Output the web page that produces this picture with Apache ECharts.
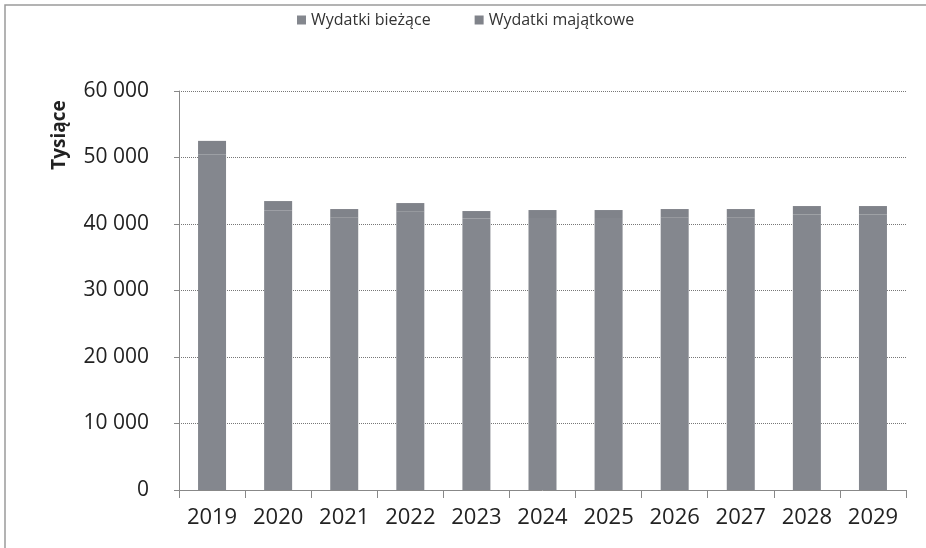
<!DOCTYPE html>
<html>
<head>
<meta charset="utf-8">
<script src="https://cdn.jsdelivr.net/npm/echarts@6/dist/echarts.min.js"></script>
<style>
html,body{margin:0;padding:0;background:#fff;}
#c{width:926px;height:548px;}
</style>
</head>
<body>
<div id="c"></div>
<script>
const categories = ['2019','2020','2021','2022','2023','2024','2025','2026','2027','2028','2029'];
const wydatkiBiezace = [50500, 42000, 41000, 41900, 40800, 40900, 40900, 41000, 41000, 41400, 41400];
const wydatkiMajatkowe = [2000, 1450, 1250, 1250, 1150, 1200, 1200, 1250, 1250, 1300, 1300];
const yTicks = [0, 10000, 20000, 30000, 40000, 50000, 60000];
const seriesNames = ['Wydatki bieżące', 'Wydatki majątkowe'];
const yAxisTitle = 'Tysiące';

const fmt = v => String(v).replace(/\B(?=(\d{3})+(?!\d))/g, ' ');

const chart = echarts.init(document.getElementById('c'), null, {renderer:'canvas'});
chart.setOption({
  backgroundColor: '#ffffff',
  animation: false,
  graphic: [{
    type: 'rect',
    shape: {x: 5, y: 5, width: 930, height: 560},
    style: {fill: 'none', stroke: '#9a9a9a', lineWidth: 1.5}
  }, {
    type: 'text',
    x: 60, y: 135,
    rotation: Math.PI / 2,
    style: {text: yAxisTitle, fontFamily: 'Open Sans', fontSize: 19, fontWeight: 'bold', fill: '#222', align: 'center', verticalAlign: 'middle'}
  }],
  legend: {
    top: 7,
    left: 292,
    itemWidth: 9, itemHeight: 9,
    itemGap: 44,
    icon: 'rect',
    textStyle: {fontFamily: 'Open Sans', fontSize: 16, color: '#333'},
    data: seriesNames
  },
  grid: {left: 179, right: 20, top: 91, bottom: 58},
  xAxis: {
    type: 'category',
    data: categories,
    boundaryGap: true,
    axisLine: {lineStyle: {color: '#888', width: 1}},
    axisTick: {show: true, length: 8, lineStyle: {color: '#888'}},
    axisLabel: {fontFamily: 'Open Sans', fontSize: 22, color: '#222', margin: 17}
  },
  yAxis: {
    type: 'value',
    min: yTicks[0], max: yTicks[yTicks.length - 1], interval: 10000,
    axisLine: {show: true, lineStyle: {color: '#888'}},
    axisTick: {show: true, length: 5, lineStyle: {color: '#888'}},
    axisLabel: {fontFamily: 'Open Sans', fontSize: 21, color: '#222', margin: 30, formatter: fmt},
    splitLine: {lineStyle: {color: '#777', type: 'dotted', width: 1}}
  },
  series: [
    {name: seriesNames[0], type: 'bar', stack: 'w', data: wydatkiBiezace, barWidth: 28,
     itemStyle: {color: '#84878e'}},
    {name: seriesNames[1], type: 'bar', stack: 'w', data: wydatkiMajatkowe, barWidth: 28,
     itemStyle: {color: '#80838a'}}
  ]
});
</script>
</body>
</html>
